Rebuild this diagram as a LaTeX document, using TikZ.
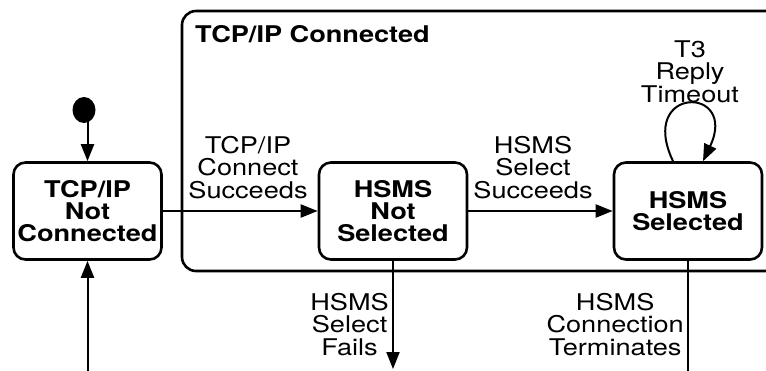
\documentclass[tikz,border=0pt]{standalone}
\usepackage{fontspec}
\setmainfont{TeX Gyre Heros}[FakeStretch=1.18]
\usetikzlibrary{arrows.meta,positioning,shapes.geometric}

\begin{document}
\begin{tikzpicture}[x=1pt,y=-1pt,
    >={Triangle[length=17pt,width=13pt]},
    stato/.style={draw,line width=2.6pt,rounded corners=12pt,minimum width=148pt,
      minimum height=97pt,inner sep=3pt,align=center,
      font=\fontsize{23}{22}\bfseries\selectfont},
    etichetta/.style={align=center,inner sep=0pt,font=\fontsize{23}{22.5}\selectfont},
    freccia/.style={->,line width=2pt}]
    \useasboundingbox (0,0) rectangle (766,370);
    % Disegna il contenitore TCP/IP Connected
    \draw[line width=2.6pt,rounded corners=14pt] (182,11) rectangle (800,271);
    \node[anchor=base west,inner sep=0pt,font=\fontsize{23}{22}\bfseries\selectfont] (titolo) at (195,42) {TCP/IP Connected};
    % Disegna gli stati
    \node[ellipse,fill,minimum width=23pt,minimum height=26pt,inner sep=0pt] (inizio) at (84,110) {};
    \node[stato] (nonconn) at (87.5,211) {TCP/IP\\Not\\Connected};
    \node[stato] (nonsel) at (393,211) {HSMS\\Not\\Selected};
    \node[stato] (sel) at (688,211) {HSMS\\Selected};
    % Disegna le transizioni
    \coordinate (rientro) at (87.5,372);
    \coordinate (fallito) at (393,369);
    \coordinate (chiuso) at (688,372);
    \draw[freccia] (inizio.center -| nonconn) -- (nonconn);
    \draw[freccia] (rientro) -- (nonconn);
    \draw[freccia] (nonconn) -- (nonsel);
    \draw[freccia] (nonsel) -- (sel);
    \draw[freccia] (nonsel) -- (fallito);
    \draw[line width=2pt] (sel) -- (chiuso);
    \draw[freccia] ([xshift=-15pt]sel.north) .. controls +(-36,-76) and +(36,-76) .. ([xshift=15pt]sel.north);
    % Disegna le label delle transizioni
    \node[etichetta,anchor=south] (lconn) at (248,199) {TCP/IP\\Connect\\Succeeds};
    \node[etichetta,anchor=south] (lsel) at (533,199) {HSMS\\Select\\Succeeds};
    \node[etichetta,anchor=south] (ltimeout) at (690,103) {T3\\Reply\\Timeout};
    \node[etichetta,anchor=north east] (lfail) at (389,293) {HSMS\\Select\\Fails};
    \node[etichetta,anchor=north east] (lterm) at (684,293) {HSMS\\Connection\\Terminates};
\end{tikzpicture}
\end{document}
